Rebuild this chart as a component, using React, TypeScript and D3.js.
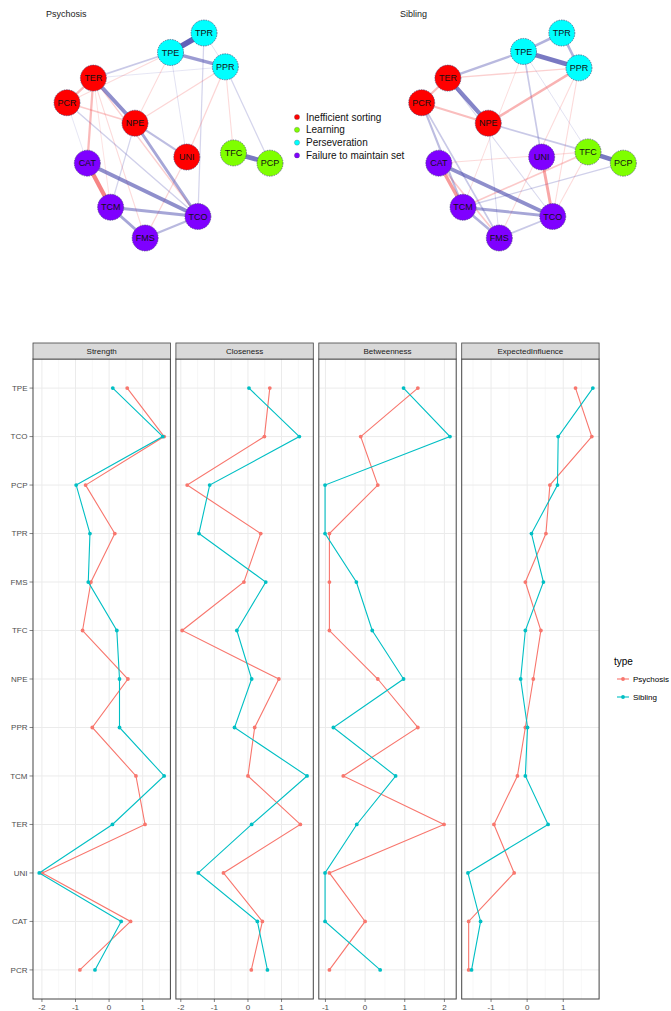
import React from "react";
import * as d3 from "d3";

// ---------- Network data ----------
const nodeNames = ["TPR", "TPE", "PPR", "TER", "PCR", "NPE", "UNI", "CAT", "TCM", "TCO", "FMS", "TFC", "PCP"];
const nodeGroups = ["Perseveration", "Perseveration", "Perseveration", "Inefficient sorting", "Inefficient sorting", "Inefficient sorting", "Inefficient sorting", "Failure to maintain set", "Failure to maintain set", "Failure to maintain set", "Failure to maintain set", "Learning", "Learning"];
const sibGroups = ["Perseveration", "Perseveration", "Perseveration", "Inefficient sorting", "Inefficient sorting", "Inefficient sorting", "Failure to maintain set", "Failure to maintain set", "Failure to maintain set", "Failure to maintain set", "Failure to maintain set", "Learning", "Learning"];
const groupNames = ["Inefficient sorting", "Learning", "Perseveration", "Failure to maintain set"];
const groupColors = ["#FF0000", "#7FFF00", "#00FFFF", "#7F00FF"];

const psychLayoutX = [0.35, 0.02, 0.56, -0.74, -1.0, -0.33, 0.18, -0.8, -0.57, 0.29, -0.23, 0.64, 1.0];
const psychLayoutY = [-1.0, -0.81, -0.67, -0.56, -0.32, -0.12, 0.21, 0.27, 0.7, 0.79, 1.0, 0.17, 0.27];
const sibLayoutX = [0.39, 0.01, 0.56, -0.74, -1.0, -0.34, 0.19, -0.83, -0.59, 0.3, -0.23, 0.65, 1.0];
const sibLayoutY = [-1.0, -0.82, -0.66, -0.56, -0.32, -0.12, 0.21, 0.27, 0.7, 0.79, 1.0, 0.16, 0.27];

type Edge = [string, string, number];
const psychEdges: Edge[] = [
  ["TPR", "TPE", 0.6], ["TPE", "PPR", 0.35], ["TPR", "PPR", 0.06], ["TPR", "TCO", 0.1],
  ["TER", "TPE", 0.15], ["TER", "PPR", 0.05], ["TER", "NPE", 0.4], ["TER", "PCR", -0.22],
  ["TER", "CAT", -0.22], ["TER", "TCO", -0.12], ["TER", "FMS", -0.08], ["PCR", "NPE", -0.15],
  ["PCR", "TPE", -0.08], ["PCR", "CAT", 0.05], ["PCR", "TCO", 0.12], ["NPE", "UNI", 0.2],
  ["NPE", "TPE", -0.08], ["NPE", "PPR", -0.1], ["NPE", "TCM", 0.1], ["NPE", "TCO", 0.3],
  ["CAT", "TCM", -0.45], ["CAT", "TCO", 0.4], ["TCM", "TCO", 0.3], ["TCM", "FMS", 0.3],
  ["FMS", "TCO", 0.22], ["UNI", "PPR", -0.1], ["UNI", "FMS", -0.1], ["TPE", "UNI", 0.06],
  ["PPR", "TFC", -0.08], ["PPR", "PCP", 0.1], ["TFC", "PCP", 0.5], ["TER", "TCM", -0.06]
];
const sibEdges: Edge[] = [
  ["TPR", "TPE", 0.25], ["TPE", "PPR", 0.5], ["TPR", "PPR", 0.25], ["TER", "TPE", 0.22],
  ["TER", "PPR", -0.12], ["TER", "NPE", 0.45], ["TER", "PCR", -0.2], ["PCR", "NPE", -0.2],
  ["NPE", "PPR", -0.25], ["NPE", "TFC", 0.15], ["PCR", "TCM", 0.2], ["PCR", "FMS", 0.15],
  ["TPE", "UNI", 0.15], ["TER", "TCO", 0.08], ["CAT", "TCM", -0.35], ["CAT", "FMS", -0.15],
  ["CAT", "TCO", 0.4], ["TCM", "TCO", 0.3], ["TCM", "FMS", 0.25], ["FMS", "TCO", 0.15],
  ["UNI", "TCO", -0.3], ["TFC", "PCP", 0.5], ["TFC", "TCM", -0.15], ["PCP", "TCM", 0.12],
  ["TFC", "TCO", -0.08], ["CAT", "TFC", -0.08], ["PPR", "TCO", -0.08], ["PPR", "FMS", -0.08],
  ["TPE", "TCM", -0.07], ["NPE", "FMS", 0.07], ["TPE", "TFC", 0.06]
];

// ---------- Centrality data ----------
const categories = ["TPE", "TCO", "PCP", "TPR", "FMS", "TFC", "NPE", "PPR", "TCM", "TER", "UNI", "CAT", "PCR"];
const measures = ["Strength", "Closeness", "Betweenness", "ExpectedInfluence"];
const psychStrength = [0.54, 1.64, -0.7, 0.17, -0.54, -0.79, 0.56, -0.5, 0.8, 1.07, -1.99, 0.64, -0.87];
const sibStrength = [0.11, 1.6, -0.98, -0.57, -0.62, 0.23, 0.31, 0.31, 1.64, 0.1, -2.08, 0.36, -0.42];
const psychCloseness = [0.65, 0.49, -1.81, 0.38, -0.12, -1.96, 0.92, 0.2, 0.0, 1.56, -0.73, 0.43, 0.1];
const sibCloseness = [0.03, 1.53, -1.14, -1.46, 0.53, -0.33, 0.11, -0.4, 1.76, 0.11, -1.48, 0.28, 0.58];
const psychBetweenness = [1.33, -0.11, 0.32, -0.9, -0.9, -0.9, 0.32, 1.33, -0.55, 1.99, -0.9, 0.0, -0.9];
const sibBetweenness = [0.97, 2.14, -1.01, -1.01, -0.22, 0.18, 0.97, -0.8, 0.77, -0.21, -1.01, -1.01, 0.38];
const psychExpected = [1.34, 1.79, 0.63, 0.52, -0.05, 0.38, 0.17, -0.05, -0.27, -0.92, -0.36, -1.62, -1.62];
const sibExpected = [1.82, 0.86, 0.84, 0.12, 0.45, -0.05, -0.18, 0.01, -0.05, 0.58, -1.64, -1.29, -1.54];
const typeNames = ["Psychosis", "Sibling"];
const typeColors = ["#F8766D", "#00BFC4"];

const psychSeries = [psychStrength, psychCloseness, psychBetweenness, psychExpected];
const sibSeries = [sibStrength, sibCloseness, sibBetweenness, sibExpected];

const FONT = "Liberation Sans, Arial, Helvetica, sans-serif";

function Network({ title, titleX, layoutX, layoutY, groups, edges, xRange }: any) {
  const x = d3.scaleLinear().domain([-1, 1]).range(xRange);
  const y = d3.scaleLinear().domain([-1, 1]).range([33, 238]);
  const idx = (n: string) => nodeNames.indexOf(n);
  const wScale = d3.scaleLinear().domain([0, 0.6]).range([0.4, 5.5]);
  const oScale = d3.scaleLinear().domain([0, 0.6]).range([0.1, 0.8]);
  const colorOf = (g: string) => groupColors[groupNames.indexOf(g)];
  const sorted = [...edges].sort((a: Edge, b: Edge) => Math.abs(a[2]) - Math.abs(b[2]));
  return (
    <g>
      <text x={titleX} y={17} fontSize={9} fontFamily={FONT} fill="#222">{title}</text>
      {sorted.map((e: Edge, i: number) => {
        const a = idx(e[0]), b = idx(e[1]);
        return (
          <line key={i} x1={x(layoutX[a])} y1={y(layoutY[a])} x2={x(layoutX[b])} y2={y(layoutY[b])}
            stroke={e[2] > 0 ? "#3A3AA6" : "#F03C3C"} strokeOpacity={oScale(Math.abs(e[2]))}
            strokeWidth={wScale(Math.abs(e[2]))} strokeLinecap="round" />
        );
      })}
      {nodeNames.map((n, i) => (
        <g key={n}>
          <circle cx={x(layoutX[i])} cy={y(layoutY[i])} r={13} fill={colorOf(groups[i])}
            stroke="#4a4a7a" strokeWidth={0.7} strokeDasharray="1.5,1" />
          <text x={x(layoutX[i])} y={y(layoutY[i])} dy="0.35em" textAnchor="middle" fontSize={9}
            fontFamily={FONT} fill="#111">{n}</text>
        </g>
      ))}
    </g>
  );
}

function Centrality() {
  const panelLeft = 33, panelW = 137.4, gap = 5.5;
  const top = 359, bottom = 999;
  const yScale = d3.scalePoint<string>().domain(categories).range([top, bottom]).padding(0.6);
  return (
    <g fontFamily={FONT}>
      {categories.map((c) => (
        <g key={c}>
          <text x={27.5} y={yScale(c)!} dy="0.35em" textAnchor="end" fontSize={8} fill="#4D4D4D">{c}</text>
          <line x1={29.5} x2={33} y1={yScale(c)!} y2={yScale(c)!} stroke="#333" strokeWidth={0.6} />
        </g>
      ))}
      {measures.map((m, mi) => {
        const x0 = panelLeft + mi * (panelW + gap);
        const x1 = x0 + panelW;
        const all = [...psychSeries[mi], ...sibSeries[mi]];
        const [mn, mx] = d3.extent(all) as [number, number];
        const pad = (mx - mn) * 0.05;
        const xs = d3.scaleLinear().domain([mn - pad, mx + pad]).range([x0, x1]);
        const ticks = xs.ticks(4);
        const minor: number[] = [];
        ticks.forEach((t) => {
          [t - 0.5, t + 0.5].forEach((v) => {
            if (v > mn - pad && v < mx + pad && !minor.includes(v) && !ticks.includes(v)) minor.push(v);
          });
        });
        const line = d3.line<number>().x((d) => xs(d)).y((_, i) => yScale(categories[i])!);
        return (
          <g key={m}>
            <rect x={x0} y={top} width={panelW} height={bottom - top} fill="white" />
            {minor.map((v) => (
              <line key={"mn" + v} x1={xs(v)} x2={xs(v)} y1={top} y2={bottom} stroke="#F2F2F2" strokeWidth={0.6} />
            ))}
            {ticks.map((v) => (
              <line key={"mj" + v} x1={xs(v)} x2={xs(v)} y1={top} y2={bottom} stroke="#EBEBEB" strokeWidth={1} />
            ))}
            {categories.map((c) => (
              <line key={"h" + c} x1={x0} x2={x1} y1={yScale(c)!} y2={yScale(c)!} stroke="#EBEBEB" strokeWidth={1} />
            ))}
            {[psychSeries[mi], sibSeries[mi]].map((s, si) => (
              <g key={si}>
                <path d={line(s)!} fill="none" stroke={typeColors[si]} strokeWidth={1.1} />
                {s.map((v, i) => (
                  <circle key={i} cx={xs(v)} cy={yScale(categories[i])!} r={1.9} fill={typeColors[si]} />
                ))}
              </g>
            ))}
            <rect x={x0} y={top} width={panelW} height={bottom - top} fill="none" stroke="#444" strokeWidth={1} />
            <rect x={x0} y={343} width={panelW} height={16} fill="#D9D9D9" stroke="#444" strokeWidth={0.8} />
            <text x={(x0 + x1) / 2} y={351} dy="0.35em" textAnchor="middle" fontSize={8} fill="#1A1A1A">{m}</text>
            {ticks.map((v) => (
              <g key={"t" + v}>
                <line x1={xs(v)} x2={xs(v)} y1={bottom} y2={bottom + 3} stroke="#333" strokeWidth={0.6} />
                <text x={xs(v)} y={1009.5} textAnchor="middle" fontSize={8} fill="#4D4D4D">{v}</text>
              </g>
            ))}
          </g>
        );
      })}
      <text x={614} y={665} fontSize={10} fill="#000">type</text>
      {typeNames.map((t, i) => (
        <g key={t}>
          <line x1={617} x2={629} y1={679 + i * 18} y2={679 + i * 18} stroke={typeColors[i]} strokeWidth={1.1} />
          <circle cx={623} cy={679 + i * 18} r={1.9} fill={typeColors[i]} />
          <text x={633} y={679 + i * 18} dy="0.35em" fontSize={8} fill="#000">{t}</text>
        </g>
      ))}
    </g>
  );
}

export default function App() {
  return (
    <svg width={671} height={1011} style={{ position: "absolute", left: 0, top: 0, display: "block" }}
      xmlns="http://www.w3.org/2000/svg">
      <rect width={671} height={1011} fill="white" />
      <Network title="Psychosis" titleX={46} layoutX={psychLayoutX} layoutY={psychLayoutY}
        groups={nodeGroups} edges={psychEdges} xRange={[67, 270]} />
      <Network title="Sibling" titleX={400} layoutX={sibLayoutX} layoutY={sibLayoutY}
        groups={sibGroups} edges={sibEdges} xRange={[421.7, 623.3]} />
      <g fontFamily={FONT}>
        {groupNames.map((g, i) => (
          <g key={g}>
            <circle cx={297} cy={117 + i * 12.8} r={2.6} fill={groupColors[i]} stroke="#555" strokeWidth={0.3} />
            <text x={306} y={117 + i * 12.8} dy="0.35em" fontSize={10} fill="#111">{g}</text>
          </g>
        ))}
      </g>
      <Centrality />
    </svg>
  );
}
